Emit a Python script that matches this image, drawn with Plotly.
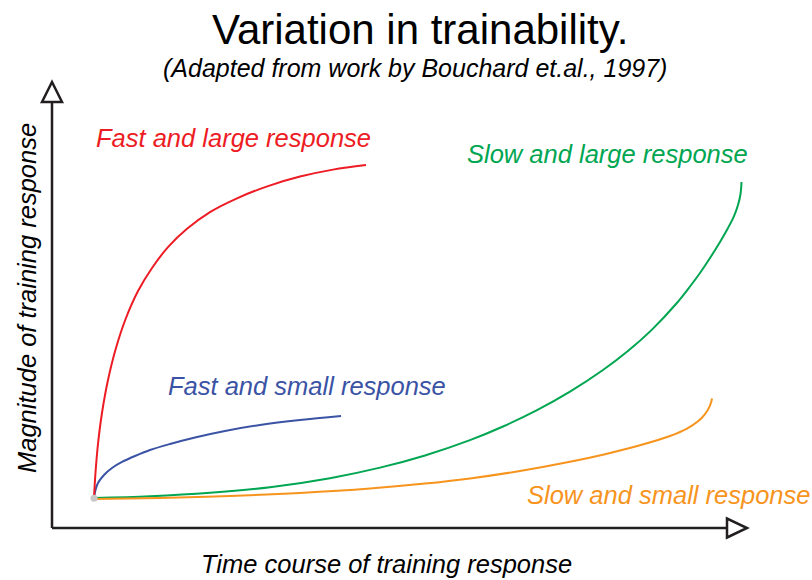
import plotly.graph_objects as go

W, H = 812, 580
FONT = "Liberation Sans, Arial, sans-serif"

# ---- data (time course units vs magnitude units) ----
series_names = ["Fast and large response", "Fast and small response",
                "Slow and large response", "Slow and small response"]
series_colors = ["#ED1C24", "#3A53A4", "#00A651", "#F7941D"]

fast_large_x = [6.0, 6.21, 6.57, 7.14, 8.0, 9.14, 10.57, 12.29, 14.29, 16.57,
                19.29, 22.57, 26.43, 30.86, 35.43, 40.14, 44.86]
fast_large_y = [6.67, 12.22, 18.67, 25.56, 32.89, 40.0, 46.67, 52.67, 57.78, 62.42,
                66.49, 70.2, 73.27, 75.98, 78.09, 79.64, 80.67]

fast_small_x = [6.0, 6.21, 6.57, 7.43, 8.57, 10.0, 11.86, 14.0, 16.86, 20.43,
                24.71, 29.71, 35.43, 41.29]
fast_small_y = [6.67, 8.44, 10.0, 11.78, 13.33, 14.67, 16.0, 17.33, 18.67, 20.11,
                21.56, 22.89, 24.0, 24.89]

slow_large_x = [6.0, 14.0, 22.57, 31.14, 39.71, 46.86, 53.29, 59.71, 64.43, 69.29,
                74.0, 78.71, 82.14, 85.71, 89.14, 91.14, 92.57, 94.0, 95.43, 96.57,
                97.43, 98.0, 98.36, 98.5]
slow_large_y = [6.67, 7.07, 7.84, 9.07, 11.07, 13.42, 16.13, 19.53, 22.56, 26.18,
                30.29, 35.11, 39.16, 44.09, 49.78, 53.67, 56.67, 60.0, 63.56, 66.67,
                69.33, 71.78, 74.22, 76.89]

slow_small_x = [6.0, 15.43, 25.43, 35.43, 45.43, 53.29, 59.71, 66.86, 74.0, 79.0,
                84.0, 88.29, 90.71, 92.29, 93.29, 94.0, 94.29]
slow_small_y = [6.44, 6.69, 7.13, 7.8, 8.78, 9.87, 11.02, 12.67, 14.71, 16.4,
                18.38, 20.44, 22.09, 23.71, 25.31, 27.2, 28.78]

series_x = [fast_large_x, fast_small_x, slow_large_x, slow_small_x]
series_y = [fast_large_y, fast_small_y, slow_large_y, slow_small_y]

start_x = [6.0]
start_y = [6.6]

title_text = "Variation in trainability."
subtitle_text = "(Adapted from work by Bouchard et.al., 1997)"
x_title = "Time course of training response"
y_title = "Magnitude of training response"

# ---- scale: data -> pixels (origin of axes at pixel 52, 528) ----
PX_X = 7.0     # pixels per x unit
PX_Y = 4.5     # pixels per y unit
OX, OY = 52, 528

fig = go.Figure()

# draw order: green, orange, blue, red
for i in [2, 3, 1, 0]:
    fig.add_trace(go.Scatter(
        x=series_x[i], y=series_y[i], mode="lines",
        line=dict(color=series_colors[i], width=2, shape="spline", smoothing=1.0,
                  simplify=False),
        hoverinfo="skip", showlegend=False))

fig.add_trace(go.Scatter(x=start_x, y=start_y, mode="markers",
                         marker=dict(color="#c8c8c8", size=7),
                         hoverinfo="skip", showlegend=False))

x_end = (727 - OX) / PX_X
y_end = (OY - 102) / PX_Y
axis_col = "#231f20"
shapes = [
    dict(type="line", xref="x", yref="y", x0=0, y0=0, x1=x_end, y1=0,
         line=dict(color=axis_col, width=2.5)),
    dict(type="line", xref="x", yref="y", x0=0, y0=0, x1=0, y1=y_end,
         line=dict(color=axis_col, width=2.5)),
    dict(type="path", xref="x", yref="y", xsizemode="pixel", ysizemode="pixel",
         xanchor=x_end, yanchor=0, path="M 0 -9.5 L 20 0 L 0 9.5 Z",
         fillcolor="white", line=dict(color=axis_col, width=2.5)),
    dict(type="path", xref="x", yref="y", xsizemode="pixel", ysizemode="pixel",
         xanchor=0, yanchor=y_end, path="M -10 0 L 10 0 L 0 20 Z",
         fillcolor="white", line=dict(color=axis_col, width=2.5)),
]

def px(xp, yp):
    return xp / W, 1 - yp / H

annotations = []
def add_text(text, xp, yp, size, color="#000000", italic=True, angle=0):
    x, y = px(xp, yp)
    annotations.append(dict(text=text, x=x, y=y, xref="paper", yref="paper",
                            xanchor="center", yanchor="middle", showarrow=False,
                            textangle=angle,
                            font=dict(family=FONT, size=size, color=color,
                                      style="italic" if italic else "normal")))

add_text(title_text, 420, 29, 42, italic=False)
add_text(subtitle_text, 415, 68, 25)
add_text(x_title, 386, 564, 25.5)
add_text(y_title, 27, 298, 25.5, angle=-90)

label_pos = [(233, 138), (307, 386), (607, 154), (668, 495)]
for name, col, (lx, ly) in zip(series_names, series_colors, label_pos):
    add_text(name, lx, ly, 25.5, color=col)

fig.update_layout(
    width=W, height=H,
    margin=dict(l=0, r=0, t=0, b=0),
    paper_bgcolor="white", plot_bgcolor="white",
    xaxis=dict(range=[-OX / PX_X, (W - OX) / PX_X], visible=False, fixedrange=True),
    yaxis=dict(range=[-(H - OY) / PX_Y, OY / PX_Y], visible=False, fixedrange=True),
    shapes=shapes, annotations=annotations, showlegend=False,
)

fig.write_html("out.html", config={"displayModeBar": False},
               post_script="document.body.style.margin='0';"
                           "document.body.style.overflow='hidden';")
